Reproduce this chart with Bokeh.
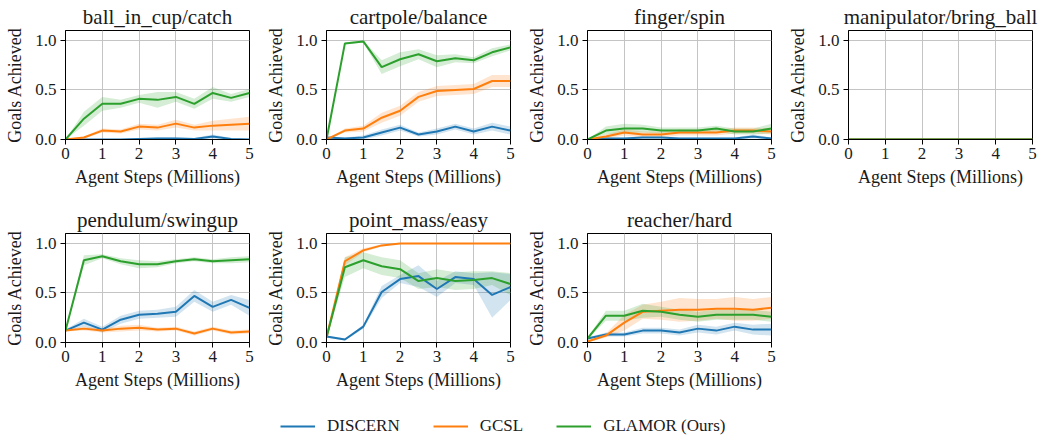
from bokeh.plotting import figure
from bokeh.models import (Range1d, FixedTicker, PrintfTickFormatter, ColumnDataSource,
                          Legend, LegendItem, Spacer)
from bokeh.layouts import row, column
from bokeh.embed import file_html
from bokeh.resources import INLINE

# ---------------- data ----------------
steps = [0, 0.5, 1, 1.5, 2, 2.5, 3, 3.5, 4, 4.5, 5]
methods = ["DISCERN", "GCSL", "GLAMOR (Ours)"]
colors = ["#1f77b4", "#ff7f0e", "#2ca02c"]
yticks = [0, 0.5, 1.0]
xticks = [0, 1, 2, 3, 4, 5]

ball_discern = [0, 0, 0, 0, 0.005, 0.01, 0.01, 0.005, 0.03, 0.005, 0]
ball_discern_sd = [0, 0.005, 0.005, 0.005, 0.01, 0.01, 0.01, 0.01, 0.02, 0.01, 0.005]
ball_gcsl = [0, 0.02, 0.09, 0.08, 0.13, 0.12, 0.16, 0.12, 0.14, 0.15, 0.16]
ball_gcsl_sd = [0, 0.01, 0.02, 0.02, 0.03, 0.03, 0.04, 0.03, 0.05, 0.06, 0.07]
ball_glamor = [0, 0.21, 0.36, 0.36, 0.41, 0.40, 0.43, 0.36, 0.47, 0.42, 0.47]
ball_glamor_sd = [0, 0.07, 0.07, 0.04, 0.04, 0.08, 0.05, 0.05, 0.06, 0.04, 0.04]

cart_discern = [0.02, 0.01, 0.02, 0.07, 0.12, 0.05, 0.08, 0.13, 0.08, 0.13, 0.09]
cart_discern_sd = [0.01, 0.01, 0.02, 0.03, 0.03, 0.02, 0.03, 0.03, 0.03, 0.04, 0.04]
cart_gcsl = [0, 0.09, 0.11, 0.22, 0.29, 0.43, 0.49, 0.50, 0.51, 0.59, 0.59]
cart_gcsl_sd = [0, 0.02, 0.03, 0.05, 0.05, 0.05, 0.05, 0.05, 0.05, 0.06, 0.06]
cart_glamor = [0, 0.97, 0.99, 0.73, 0.81, 0.86, 0.79, 0.82, 0.80, 0.88, 0.93]
cart_glamor_sd = [0, 0.01, 0.01, 0.07, 0.07, 0.05, 0.06, 0.04, 0.03, 0.04, 0.03]

finger_discern = [0, 0.01, 0.01, 0.02, 0.02, 0.01, 0.01, 0.01, 0.01, 0.03, 0.01]
finger_discern_sd = [0, 0.01, 0.01, 0.01, 0.01, 0.01, 0.01, 0.01, 0.01, 0.02, 0.01]
finger_gcsl = [0, 0.03, 0.07, 0.05, 0.05, 0.07, 0.07, 0.07, 0.09, 0.09, 0.08]
finger_gcsl_sd = [0, 0.02, 0.03, 0.03, 0.03, 0.03, 0.03, 0.03, 0.03, 0.03, 0.03]
finger_glamor = [0, 0.09, 0.11, 0.11, 0.09, 0.09, 0.09, 0.11, 0.08, 0.08, 0.11]
finger_glamor_sd = [0, 0.04, 0.05, 0.04, 0.03, 0.03, 0.03, 0.03, 0.03, 0.03, 0.05]

manip_discern = [0, 0, 0, 0, 0, 0, 0, 0, 0, 0, 0]
manip_discern_sd = [0, 0, 0, 0, 0, 0, 0, 0, 0, 0, 0]
manip_gcsl = [0, 0, 0, 0, 0, 0, 0, 0, 0, 0, 0]
manip_gcsl_sd = [0, 0, 0, 0, 0, 0, 0, 0, 0, 0, 0]
manip_glamor = [0, 0, 0, 0, 0, 0, 0, 0, 0, 0, 0]
manip_glamor_sd = [0, 0, 0, 0, 0, 0, 0, 0, 0, 0, 0]

pend_discern = [0.12, 0.20, 0.13, 0.23, 0.28, 0.29, 0.31, 0.47, 0.36, 0.43, 0.35]
pend_discern_sd = [0.01, 0.04, 0.03, 0.04, 0.04, 0.04, 0.05, 0.06, 0.05, 0.05, 0.08]
pend_gcsl = [0.12, 0.14, 0.12, 0.14, 0.15, 0.13, 0.14, 0.09, 0.14, 0.10, 0.11]
pend_gcsl_sd = [0.01, 0.02, 0.02, 0.03, 0.03, 0.02, 0.02, 0.02, 0.02, 0.02, 0.02]
pend_glamor = [0.12, 0.83, 0.87, 0.82, 0.79, 0.79, 0.82, 0.84, 0.82, 0.83, 0.84]
pend_glamor_sd = [0.01, 0.05, 0.02, 0.03, 0.04, 0.03, 0.02, 0.02, 0.02, 0.03, 0.03]

point_discern = [0.06, 0.03, 0.16, 0.51, 0.64, 0.67, 0.54, 0.66, 0.64, 0.48, 0.56]
point_discern_sd = [0.01, 0.01, 0.02, 0.06, 0.04, 0.11, 0.08, 0.06, 0.06, 0.23, 0.13]
point_gcsl = [0.05, 0.82, 0.93, 0.98, 1.0, 1.0, 1.0, 1.0, 1.0, 1.0, 1.0]
point_gcsl_sd = [0, 0.04, 0.02, 0.01, 0, 0, 0, 0, 0, 0, 0]
point_glamor = [0.05, 0.76, 0.83, 0.77, 0.74, 0.62, 0.65, 0.62, 0.63, 0.65, 0.59]
point_glamor_sd = [0.01, 0.10, 0.08, 0.09, 0.09, 0.08, 0.09, 0.09, 0.09, 0.07, 0.11]

reach_discern = [0.04, 0.08, 0.08, 0.12, 0.12, 0.10, 0.14, 0.12, 0.16, 0.13, 0.13]
reach_discern_sd = [0.01, 0.02, 0.02, 0.03, 0.03, 0.03, 0.04, 0.04, 0.04, 0.05, 0.06]
reach_gcsl = [0.01, 0.07, 0.20, 0.31, 0.32, 0.33, 0.33, 0.34, 0.34, 0.33, 0.35]
reach_gcsl_sd = [0.01, 0.02, 0.08, 0.07, 0.09, 0.12, 0.11, 0.10, 0.12, 0.11, 0.11]
reach_glamor = [0.04, 0.27, 0.27, 0.32, 0.31, 0.28, 0.26, 0.28, 0.28, 0.28, 0.26]
reach_glamor_sd = [0.01, 0.05, 0.05, 0.07, 0.05, 0.05, 0.05, 0.05, 0.05, 0.05, 0.05]

tasks = [
    ("ball_in_cup/catch", [(ball_discern, ball_discern_sd), (ball_gcsl, ball_gcsl_sd), (ball_glamor, ball_glamor_sd)]),
    ("cartpole/balance", [(cart_discern, cart_discern_sd), (cart_gcsl, cart_gcsl_sd), (cart_glamor, cart_glamor_sd)]),
    ("finger/spin", [(finger_discern, finger_discern_sd), (finger_gcsl, finger_gcsl_sd), (finger_glamor, finger_glamor_sd)]),
    ("manipulator/bring_ball", [(manip_discern, manip_discern_sd), (manip_gcsl, manip_gcsl_sd), (manip_glamor, manip_glamor_sd)]),
    ("pendulum/swingup", [(pend_discern, pend_discern_sd), (pend_gcsl, pend_gcsl_sd), (pend_glamor, pend_glamor_sd)]),
    ("point_mass/easy", [(point_discern, point_discern_sd), (point_gcsl, point_gcsl_sd), (point_glamor, point_glamor_sd)]),
    ("reacher/hard", [(reach_discern, reach_discern_sd), (reach_gcsl, reach_gcsl_sd), (reach_glamor, reach_glamor_sd)]),
]

FONT = "Liberation Serif"
TXT = "#1a1a1a"


def make_panel(title, series, width, height, bottom, right):
    p = figure(width=width, height=height, output_backend="svg", toolbar_location=None,
               x_range=Range1d(0, 5), y_range=Range1d(0, 1.1),
               min_border_left=65, min_border_right=right, min_border_top=30,
               min_border_bottom=bottom, title=title)
    p.title.text_font = FONT
    p.title.text_font_size = "21px"
    p.title.text_font_style = "normal"
    p.title.align = "center"
    p.title.standoff = 3
    p.title.text_color = TXT
    p.outline_line_color = "black"
    p.outline_line_width = 1
    p.background_fill_color = "white"
    p.border_fill_color = "white"
    for ax in (p.xaxis[0], p.yaxis[0]):
        ax.major_label_text_font = FONT
        ax.major_label_text_font_size = "17px"
        ax.major_label_text_color = TXT
        ax.axis_label_text_font = FONT
        ax.axis_label_text_font_size = "18px"
        ax.axis_label_text_font_style = "normal"
        ax.axis_label_text_color = TXT
        ax.major_tick_in = 0
        ax.major_tick_out = 5
        ax.minor_tick_out = 0
        ax.minor_tick_in = 0
        ax.axis_line_color = "black"
        ax.major_tick_line_color = "black"
    p.xaxis.major_label_standoff = 3
    p.yaxis.major_label_standoff = 4
    p.xaxis.ticker = FixedTicker(ticks=xticks)
    p.yaxis.ticker = FixedTicker(ticks=yticks)
    p.yaxis.formatter = PrintfTickFormatter(format="%.1f")
    p.xaxis.axis_label = "Agent Steps (Millions)"
    p.yaxis.axis_label = "Goals Achieved"
    p.xaxis.axis_label_standoff = 5
    p.yaxis.axis_label_standoff = 7
    p.grid.grid_line_color = "#c4c4c4"
    p.grid.grid_line_width = 1
    for (mean, sd), c in zip(series, colors):
        src = ColumnDataSource(dict(x=steps, y=mean,
                                    lo=[m - s for m, s in zip(mean, sd)],
                                    hi=[m + s for m, s in zip(mean, sd)]))
        p.varea(x="x", y1="lo", y2="hi", source=src, fill_color=c, fill_alpha=0.2)
    for (mean, sd), c in zip(series, colors):
        src = ColumnDataSource(dict(x=steps, y=mean))
        p.line(x="x", y="y", source=src, line_color=c, line_width=2)
    return p


W = [261, 261, 261, 267]
RIGHT = [12, 12, 12, 18]
row1 = [make_panel(t, s, W[i], 203, 64, RIGHT[i]) for i, (t, s) in enumerate(tasks[:4])]
row2 = [make_panel(t, s, W[i], 194, 55, RIGHT[i]) for i, (t, s) in enumerate(tasks[4:])]
row2.append(Spacer(width=W[3], height=194))

# legend-only strip (its sample lines lie outside the visible range)
leg = figure(width=1050, height=42, output_backend="svg", toolbar_location=None,
             x_range=Range1d(0, 1), y_range=Range1d(0, 1),
             min_border_left=0, min_border_right=0, min_border_top=0, min_border_bottom=0)
leg.axis.visible = False
leg.grid.visible = False
leg.outline_line_color = None
items = []
for name, c in zip(methods, colors):
    r = leg.line(x=[5, 6], y=[5, 6], line_color=c, line_width=2)
    items.append(LegendItem(label=name, renderers=[r]))
legend = Legend(items=items, orientation="horizontal", location=(280, 3),
                glyph_width=35, glyph_height=16, label_height=16, label_standoff=12,
                spacing=33, padding=0, margin=0, border_line_color=None,
                background_fill_alpha=0, label_text_font=FONT, label_text_font_size="17px",
                label_text_color=TXT)
leg.add_layout(legend, "center")

layout = column(row(*row1), row(*row2), leg)
open("out.html", "w").write(file_html(layout, INLINE))
